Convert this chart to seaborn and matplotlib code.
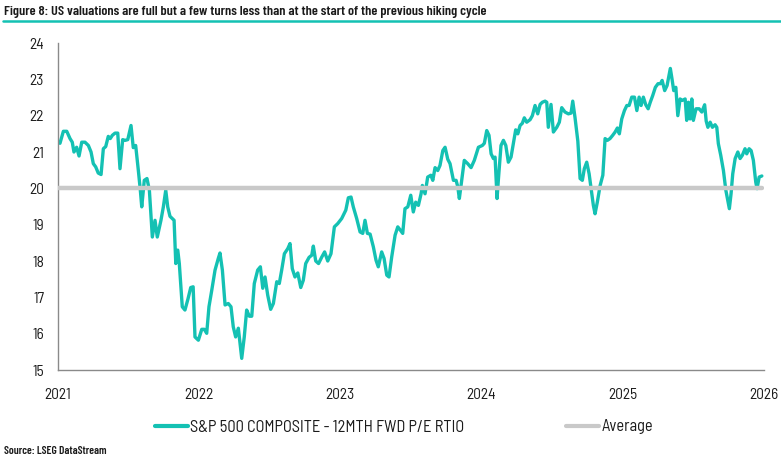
import numpy as np
import pandas as pd
import matplotlib
matplotlib.use("Agg")
import matplotlib.pyplot as plt
import matplotlib.dates as mdates
from matplotlib import font_manager
from matplotlib.lines import Line2D
import seaborn as sns

# ---------------- data ----------------
TITLE = "Figure 8: US valuations are full but a few turns less than at the start of the previous hiking cycle"
SOURCE = "Source: LSEG DataStream"
SERIES_LABEL = "S&P 500 COMPOSITE - 12MTH FWD P/E RTIO"
AVG_LABEL = "Average"

# time as decimal years
time_years = [
    2021.000, 2021.014, 2021.038, 2021.062, 2021.085, 2021.101, 2021.113, 2021.132, 2021.149, 2021.168,
    2021.191, 2021.215, 2021.234, 2021.250, 2021.267, 2021.285, 2021.305, 2021.321, 2021.338, 2021.356,
    2021.370, 2021.385, 2021.404, 2021.423, 2021.439, 2021.458, 2021.475, 2021.494, 2021.517, 2021.533,
    2021.550, 2021.569, 2021.583, 2021.593, 2021.611, 2021.630, 2021.647, 2021.668, 2021.687, 2021.703,
    2021.729, 2021.746, 2021.763, 2021.777, 2021.793, 2021.822, 2021.834, 2021.848, 2021.859, 2021.880,
    2021.899, 2021.920, 2021.940, 2021.957, 2021.970, 2021.994, 2022.018, 2022.036, 2022.053, 2022.069,
    2022.089, 2022.112, 2022.135, 2022.147, 2022.164, 2022.183, 2022.206, 2022.225, 2022.241, 2022.258,
    2022.277, 2022.301, 2022.319, 2022.336, 2022.355, 2022.372, 2022.390, 2022.414, 2022.433, 2022.450,
    2022.466, 2022.485, 2022.506, 2022.525, 2022.549, 2022.567, 2022.584, 2022.603, 2022.627, 2022.643,
    2022.659, 2022.678, 2022.698, 2022.719, 2022.737, 2022.754, 2022.778, 2022.797, 2022.808, 2022.825,
    2022.845, 2022.868, 2022.888, 2022.910, 2022.933, 2022.957, 2022.981, 2023.009, 2023.038, 2023.056,
    2023.075, 2023.091, 2023.115, 2023.139, 2023.158, 2023.174, 2023.191, 2023.210, 2023.233, 2023.252,
    2023.268, 2023.292, 2023.309, 2023.328, 2023.344, 2023.363, 2023.387, 2023.406, 2023.424, 2023.441,
    2023.457, 2023.477, 2023.498, 2023.516, 2023.533, 2023.552, 2023.571, 2023.580, 2023.599, 2023.618,
    2023.640, 2023.654, 2023.670, 2023.689, 2023.705, 2023.725, 2023.741, 2023.760, 2023.776, 2023.800,
    2023.819, 2023.831, 2023.842, 2023.859, 2023.877, 2023.901, 2023.925, 2023.948, 2023.977, 2024.005,
    2024.019, 2024.036, 2024.052, 2024.067, 2024.083, 2024.095, 2024.109, 2024.118, 2024.137, 2024.154,
    2024.171, 2024.189, 2024.208, 2024.224, 2024.241, 2024.256, 2024.272, 2024.288, 2024.302, 2024.319,
    2024.343, 2024.359, 2024.378, 2024.397, 2024.414, 2024.430, 2024.449, 2024.461, 2024.472, 2024.491,
    2024.508, 2024.532, 2024.550, 2024.567, 2024.590, 2024.614, 2024.633, 2024.645, 2024.661, 2024.681,
    2024.697, 2024.713, 2024.727, 2024.744, 2024.761, 2024.775, 2024.791, 2024.803, 2024.819, 2024.839,
    2024.858, 2024.874, 2024.890, 2024.909, 2024.928, 2024.945, 2024.961, 2024.975, 2024.992, 2025.011,
    2025.028, 2025.044, 2025.063, 2025.082, 2025.099, 2025.115, 2025.129, 2025.145, 2025.162, 2025.179,
    2025.194, 2025.211, 2025.230, 2025.249, 2025.266, 2025.278, 2025.296, 2025.313, 2025.336, 2025.348,
    2025.360, 2025.375, 2025.389, 2025.405, 2025.421, 2025.441, 2025.452, 2025.464, 2025.476, 2025.488,
    2025.499, 2025.518, 2025.540, 2025.559, 2025.579, 2025.590, 2025.602, 2025.618, 2025.634, 2025.653,
    2025.665, 2025.676, 2025.693, 2025.712, 2025.729, 2025.743, 2025.754, 2025.766, 2025.778, 2025.795,
    2025.814, 2025.830, 2025.846, 2025.865, 2025.877, 2025.894, 2025.908, 2025.924, 2025.941, 2025.950,
    2025.965, 2025.984,
]

pe_values = [
    21.27, 21.24, 21.57, 21.57, 21.37, 21.27, 21.00, 21.13, 20.89, 21.27,
    21.27, 21.18, 21.00, 20.68, 20.59, 20.42, 20.38, 21.09, 21.15, 21.43,
    21.37, 21.46, 21.52, 21.52, 20.54, 21.34, 21.32, 21.34, 21.73, 21.12,
    21.18, 20.49, 19.95, 19.49, 20.22, 20.27, 19.95, 18.66, 19.12, 18.66,
    19.12, 19.49, 19.95, 19.49, 19.23, 19.12, 17.93, 18.30, 17.93, 16.74,
    16.65, 16.95, 17.27, 17.29, 15.91, 15.82, 16.12, 16.12, 16.01, 16.74,
    17.20, 17.75, 18.07, 18.22, 17.75, 16.79, 16.83, 16.74, 16.19, 15.91,
    16.15, 15.32, 15.91, 16.65, 16.48, 16.48, 17.38, 17.75, 17.84, 17.25,
    17.56, 17.06, 16.67, 16.83, 17.43, 17.38, 17.75, 18.20, 18.34, 18.48,
    17.79, 17.56, 17.67, 17.27, 17.47, 17.93, 18.10, 18.16, 18.41, 18.00,
    17.93, 18.11, 18.25, 18.00, 18.20, 18.94, 19.03, 19.17, 19.40, 19.74,
    19.76, 19.49, 19.17, 18.80, 18.76, 19.12, 18.76, 18.74, 18.39, 18.02,
    17.84, 18.25, 18.07, 17.61, 17.56, 18.11, 18.71, 18.94, 18.85, 18.76,
    19.44, 19.49, 19.81, 19.35, 19.62, 19.53, 19.85, 20.08, 19.85, 20.31,
    20.36, 20.22, 20.57, 20.49, 20.63, 21.04, 21.13, 20.80, 20.68, 20.22,
    20.22, 20.04, 19.72, 20.22, 20.77, 20.68, 20.57, 20.77, 21.13, 21.18,
    21.24, 21.59, 21.46, 20.95, 20.82, 20.86, 19.72, 20.22, 21.18, 21.32,
    21.18, 20.72, 20.86, 21.23, 21.61, 21.50, 21.73, 21.79, 21.94, 21.82,
    21.89, 22.00, 22.28, 22.05, 22.31, 22.37, 22.40, 22.37, 21.68, 22.31,
    21.55, 21.68, 21.82, 22.22, 22.10, 22.05, 22.07, 22.40, 21.95, 21.30,
    20.27, 20.22, 20.54, 20.72, 20.40, 19.99, 19.53, 19.30, 19.62, 20.08,
    20.36, 21.37, 21.32, 21.37, 21.46, 21.55, 21.66, 21.50, 21.91, 22.14,
    22.28, 22.28, 22.51, 22.51, 22.14, 22.51, 22.28, 22.51, 22.30, 22.19,
    22.37, 22.55, 22.78, 22.88, 22.88, 22.97, 22.69, 22.83, 23.30, 23.01,
    22.69, 22.78, 22.00, 22.46, 22.42, 22.46, 21.87, 22.37, 21.91, 22.46,
    21.87, 22.19, 22.19, 22.10, 22.30, 21.85, 21.68, 21.82, 21.68, 21.75,
    21.68, 21.23, 20.91, 20.49, 19.95, 19.67, 19.44, 19.85, 20.40, 20.82,
    21.00, 20.82, 20.91, 21.09, 20.95, 21.09, 21.04, 20.77, 20.17, 19.99,
    20.31, 20.34,
]

AVERAGE = 20.0
year_ticks = [2021, 2022, 2023, 2024, 2025, 2026]
y_ticks = [15, 16, 17, 18, 19, 20, 21, 22, 23, 24]

# ---------------- style ----------------
TEAL = "#14c1b3"
GREY = "#c9c9c9"
AXIS_GREY = "#8a8a8a"
TEXT = "#1a1a1a"

sns.set_style("white")
available = {f.name for f in font_manager.fontManager.ttflist}
def pick(cands):
    for c in cands:
        if c in available:
            return c
    return "DejaVu Sans"
body_font = pick(["Barlow Semi Condensed", "Roboto Condensed", "Liberation Sans Narrow"])
title_font = pick(["Barlow Condensed", "Barlow Semi Condensed", "Roboto Condensed"])
plt.rcParams["font.family"] = [body_font, "DejaVu Sans"]

def to_date(y):
    return pd.Timestamp("2021-01-01") + pd.to_timedelta((y - 2021.0) * 365.25, unit="D")

df = pd.DataFrame({
    "date": [to_date(t) for t in time_years],
    "pe": pe_values,
})
avg_df = pd.DataFrame({
    "date": [df["date"].iloc[0], df["date"].iloc[-1]],
    "avg": [AVERAGE, AVERAGE],
})

W, H = 781, 458
fig = plt.figure(figsize=(W / 100, H / 100), dpi=100)
ax = fig.add_axes([58 / W, 1 - 370 / H, (764 - 58) / W, (370 - 43) / H])

sns.lineplot(data=df, x="date", y="pe", ax=ax, color=TEAL, linewidth=2.4,
             legend=False, zorder=2)
sns.lineplot(data=avg_df, x="date", y="avg", ax=ax, color=GREY, linewidth=3.2,
             legend=False, zorder=3)

ax.set_xlim(pd.Timestamp(f"{year_ticks[0]}-01-01"), pd.Timestamp(f"{year_ticks[-1]}-01-01"))
ax.set_ylim(y_ticks[0], y_ticks[-1])
ax.set_xticks([pd.Timestamp(f"{y}-01-01") for y in year_ticks])
ax.xaxis.set_major_formatter(mdates.DateFormatter("%Y"))
ax.set_yticks(y_ticks)
ax.set_xlabel("")
ax.set_ylabel("")

for s in ["top", "right"]:
    ax.spines[s].set_visible(False)
for s in ["left", "bottom"]:
    ax.spines[s].set_color(AXIS_GREY)
    ax.spines[s].set_linewidth(1.0)

ax.tick_params(axis="x", direction="out", length=5, width=1, color=AXIS_GREY,
               labelsize=11, labelcolor=TEXT, pad=8)
ax.tick_params(axis="y", length=0, labelsize=11, labelcolor=TEXT, pad=10)
ax.grid(False)

# title and underline
fig.text(4 / W, 1 - 11.5 / H, TITLE, fontsize=10.2, fontweight="semibold", color=TEXT,
         ha="left", va="center", family=[title_font, "DejaVu Sans"])
fig.add_artist(Line2D([3 / W, 1.0], [1 - 20.5 / H, 1 - 20.5 / H],
                      transform=fig.transFigure, color=TEAL, linewidth=1.8))

# legend
handles = [Line2D([], [], color=TEAL, linewidth=3.0),
           Line2D([], [], color=GREY, linewidth=3.0)]
fig.legend(handles, [SERIES_LABEL, AVG_LABEL], loc="center",
           bbox_to_anchor=(404 / W, 1 - 427 / H), ncol=2, frameon=False,
           fontsize=11.8, handlelength=2.0, handletextpad=0.15,
           columnspacing=6.2, labelcolor=TEXT)

# source
fig.text(4 / W, 1 - 451 / H, SOURCE, fontsize=8.2, fontweight="semibold", color=TEXT,
         ha="left", va="center", family=[title_font, "DejaVu Sans"])

fig.savefig("out.png", dpi=100, facecolor="white")
